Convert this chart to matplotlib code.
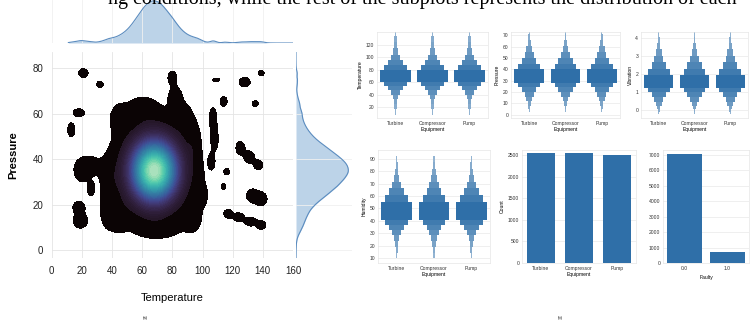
import numpy as np
import matplotlib
matplotlib.use("Agg")
import matplotlib.pyplot as plt
import seaborn as sns
from matplotlib.colors import to_rgb

W, H = 754, 324

# ---------- (a) temperature / pressure density ----------
main_x, main_y = 68, 35          # centre of the bright core
main_sx, main_sy = 11.5, 10      # spread of the core

# dark low-density patches: centre x, centre y, half width, half height
blob_x = [24, 20, 26, 37, 38, 82, 80, 60, 88, 93, 45, 97, 44, 94, 70,
          107, 108, 106, 100,
          21, 32, 18, 13, 18, 19,
          109, 114, 128, 139, 135,
          125, 131, 137, 116, 114,
          133, 139, 117, 124, 132, 139]
blob_y = [37, 34, 27, 17, 30, 67, 76, 62, 58, 14, 58, 28, 15, 48, 9,
          58, 49, 39, 24,
          78, 73, 60.5, 53, 19, 13,
          75, 65.5, 74, 78, 64.5,
          45, 41, 37.5, 34.5, 28,
          24, 22.5, 16, 14.5, 12.5, 11]
blob_w = [8, 4, 2.5, 4, 5, 4.5, 3, 9, 5, 6, 6, 3, 7, 4, 12,
          2.5, 2.5, 2.2, 3,
          3.3, 2.2, 4, 2.5, 4, 5,
          2.5, 2.5, 3.8, 2, 2.2,
          3, 3.5, 3, 2, 1.5,
          4, 4, 3, 3.5, 4, 3]
blob_h = [4.5, 3.5, 3, 6, 9, 5, 3, 5, 6, 6, 6, 8, 7, 8, 3,
          5, 5, 3.5, 4,
          2, 1.5, 1.8, 3.2, 2.5, 3.5,
          0.8, 2.2, 2.2, 1.2, 1.3,
          3, 2.8, 2.2, 1.5, 1.3,
          3, 3, 2, 2, 2, 2]

# ---------- (b) equipment panels ----------
equipment = ["Turbine", "Compressor", "Pump"]
# boxen levels (inner box first, outermost tail last)
temp_lo = [61, 54, 47, 40, 33, 25, 17, 8]
temp_hi = [79, 87, 95, 104, 114, 124, 133, 150]
pres_lo = [28, 24, 20, 16, 12, 8, 5, 2]
pres_hi = [40, 44.5, 50, 55, 61, 66, 71, 80]
vib_lo = [1.24, 0.98, 0.71, 0.45, 0.22, 0.05, -0.1, -0.25]
vib_hi = [1.96, 2.3, 2.65, 3.0, 3.4, 3.75, 4.05, 4.6]
hum_lo = [40.5, 36.5, 32.5, 28.5, 23.5, 19, 14, 10]
hum_hi = [55.5, 60.5, 66, 71.5, 76.5, 82, 87.5, 92.5]
eq_counts = [2540, 2540, 2500]
faulty_labels = ["0.0", "1.0"]
faulty_counts = [7010, 690]

box_w = [0.82, 0.6, 0.4, 0.25, 0.15, 0.09, 0.055, 0.03]
box_fade = [0, 0.08, 0.15, 0.22, 0.3, 0.36, 0.42, 0.48]
base = "#2f6fa8"

plt.rcParams['font.family'] = ['Liberation Sans', 'DejaVu Sans']


def rect(x0, y0, x1, y1):
    return [x0 / W, 1 - y1 / H, (x1 - x0) / W, (y1 - y0) / H]


def fade(c, f):
    r = np.array(to_rgb(c))
    return tuple(r + (1 - r) * f)


fig = plt.figure(figsize=(W / 100, H / 100), dpi=100)

# cut-off caption line at the very top
fig.text(108 / W, 1 - 4 / H,
         "ng conditions, while the rest of the subplots represents the distribution of each",
         fontsize=14.5, family='Liberation Serif', va='baseline', color='black')

# density grid
xg = np.linspace(-2, 165, 500)
yg = np.linspace(-6, 90, 400)
X, Y = np.meshgrid(xg, yg)
Z = np.exp(-((X - main_x) / main_sx) ** 2 / 2 - ((Y - main_y) / main_sy) ** 2 / 2)
for bx, by, bw, bh in zip(blob_x, blob_y, blob_w, blob_h):
    sx, sy = bw / 1.354, bh / 1.354
    Z += 0.05 * np.exp(-((X - bx) / sx) ** 2 / 2 - ((Y - by) / sy) ** 2 / 2)

mako = sns.color_palette("mako", as_cmap=True)
levels = [0.022] + list(np.linspace(0.1, 1.0, 41))
levels[-1] = max(1.0, Z.max()) + 0.01
band_colors = ['#0b0405'] + [mako(0.1 + 0.8 * v ** 1.2) for v in np.linspace(0, 1, 40)]

grid_c = '#e4e4e4'
ax = fig.add_axes(rect(51.7, 51.7, 293, 258))
ax.contourf(X, Y, Z, levels=levels, colors=band_colors)
ax.set_xlim(0, 160)
ax.set_ylim(-3.5, 87.4)
ax.set_xticks(range(0, 161, 20))
ax.set_yticks(range(0, 81, 20))
ax.grid(True, color=grid_c, lw=0.6)
ax.set_axisbelow(True)
for s in ax.spines.values():
    s.set_visible(False)
ax.tick_params(length=0, labelsize=7, pad=6, colors='#222222')
ax.set_xlabel("Temperature", fontsize=8, labelpad=12)
ax.set_ylabel("Pressure", fontsize=8, labelpad=10, fontweight='bold')

# marginals
top = Z.sum(axis=0)
side = Z.sum(axis=1)
fill_c, line_c = '#bcd3e8', '#5b8cbf'

axt = fig.add_axes(rect(51.7, 0, 293, 43))
m = xg >= 11
axt.fill_between(xg[m], 0, top[m], color=fill_c, lw=0)
axt.plot(xg[m], top[m], color=line_c, lw=0.8)
axt.set_xlim(0, 160)
axt.set_ylim(0, top.max() * 1.02)
axt.set_xticks(range(0, 161, 20))
axt.set_yticks([])
axt.tick_params(length=0, labelbottom=False)
axt.grid(True, axis='x', color='#f0f0f0', lw=0.6)
for s in axt.spines.values():
    s.set_visible(False)
axt.patch.set_alpha(0)

axr = fig.add_axes(rect(296, 51.7, 352, 258))
axr.fill_betweenx(yg, 0, side, color=fill_c, lw=0)
axr.plot(side, yg, color=line_c, lw=0.8)
axr.set_ylim(-3.5, 87.4)
axr.set_xlim(0, side.max() * 1.07)
axr.set_xticks([])
axr.set_yticks(range(0, 81, 20))
axr.tick_params(length=0, labelleft=False)
axr.grid(True, axis='y', color='#f0f0f0', lw=0.6)
for s in axr.spines.values():
    s.set_visible(False)

fig.text(145 / W, 1 - 318 / H, "(a)", fontsize=3, ha='center', va='center')
fig.text(560 / W, 1 - 318 / H, "(b)", fontsize=3, ha='center', va='center')


def style_small(a, ylabel):
    a.grid(True, axis='y', color=grid_c, lw=0.4)
    a.grid(False, axis='x')
    a.set_axisbelow(True)
    for s in a.spines.values():
        s.set_color('#e0e0e0')
        s.set_linewidth(0.4)
    a.tick_params(length=0, labelsize=3.6, pad=2, colors='#333333')
    if ylabel:
        a.set_ylabel(ylabel, fontsize=3.6, labelpad=2)


def boxen(a, lo, hi, ylim, ticks, ylabel):
    pos = np.arange(len(equipment))
    for k in range(len(lo) - 1, -1, -1):
        a.bar(pos, hi[k] - lo[k], bottom=lo[k], width=box_w[k],
              color=fade(base, box_fade[k]), lw=0)
    a.set_xlim(-0.5, len(equipment) - 0.5)
    a.set_ylim(*ylim)
    a.set_yticks(ticks)
    a.set_xticks(pos)
    a.set_xticklabels(equipment)
    a.set_xlabel("Equipment", fontsize=3.6, labelpad=1)
    style_small(a, ylabel)


a1 = fig.add_axes(rect(377, 32, 488, 118))
boxen(a1, temp_lo, temp_hi, (3, 140), range(20, 121, 20), "Temperature")
a2 = fig.add_axes(rect(511, 32, 620, 118))
boxen(a2, pres_lo, pres_hi, (-3, 73), range(0, 71, 10), "Pressure")
a3 = fig.add_axes(rect(641, 32, 748, 118))
boxen(a3, vib_lo, vib_hi, (-0.45, 4.35), range(0, 5), "Vibration")
a4 = fig.add_axes(rect(378, 150, 490, 263))
boxen(a4, hum_lo, hum_hi, (6, 97), range(10, 91, 10), "Humidity")

a5 = fig.add_axes(rect(522, 150, 636, 263))
a5.bar(range(len(equipment)), eq_counts, width=0.76, color=base, lw=0)
a5.set_xlim(-0.5, len(equipment) - 0.5)
a5.set_ylim(0, 2620)
a5.set_yticks(range(0, 2501, 500))
a5.set_xticks(range(len(equipment)))
a5.set_xticklabels(equipment)
a5.set_xlabel("Equipment", fontsize=3.6, labelpad=1)
style_small(a5, "Count")

a6 = fig.add_axes(rect(663, 150, 749, 263))
a6.bar(range(len(faulty_labels)), faulty_counts, width=0.8, color=base, lw=0)
a6.set_xlim(-0.5, len(faulty_labels) - 0.5)
a6.set_ylim(0, 7300)
a6.set_yticks(range(0, 7001, 1000))
a6.set_xticks(range(len(faulty_labels)))
a6.set_xticklabels(faulty_labels)
a6.set_xlabel("Faulty", fontsize=3.6, labelpad=3)
style_small(a6, None)

fig.savefig("out.png", dpi=100)
